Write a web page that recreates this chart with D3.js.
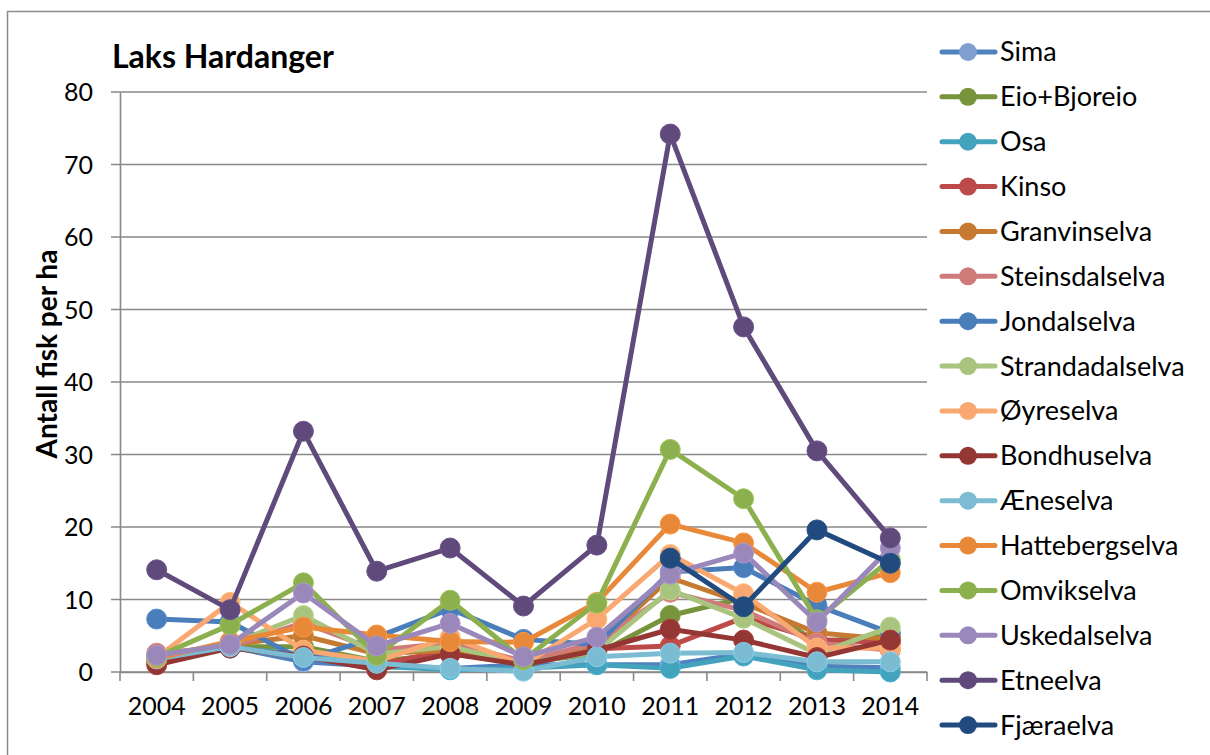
<!DOCTYPE html>
<head>
  <meta charset="utf-8">
  <script src="https://d3js.org/d3.v7.min.js"></script>
  <style>
    body { margin: 0; background: #fff; }
    text { font-family: Lato, "Liberation Sans", sans-serif; fill: #000; }
  </style>
</head>
<body>
  <script type="text/javascript">
    var w = 1210;
    var h = 755;

    // categories (years)
    var years = ["2004","2005","2006","2007","2008","2009","2010","2011","2012","2013","2014"];
    var yTicks = [0,10,20,30,40,50,60,70,80];

    // fish per ha, one array per river
    var sima          = [1.5, 3.5, 1.4, 0.8, 0.5, 1.0, 1.0, 1.0, 2.5, 0.8, 0.6];
    var eioBjoreio    = [1.8, 3.5, 3.5, 1.5, 2.5, 1.3, 2.5, 7.8,10.2, 4.2, 5.0];
    var osa           = [1.5, 3.3, 2.5, 0.8, 0.3, 0.5, 1.0, 0.5, 2.2, 0.3, 0.0];
    var kinso         = [1.5, 3.5, 2.0, 1.0, 3.0, 1.0, 3.2, 3.6, 7.5, 4.5, 4.0];
    var granvinselva  = [1.8, 3.8, 5.0, 2.5, 3.0, 1.2, 3.5,13.0, 9.5, 5.4, 4.5];
    var steinsdalselva= [2.6, 3.5, 6.8, 3.0, 4.0, 1.5, 4.0,11.0, 8.5, 4.0, 3.0];
    var jondalselva   = [7.3, 6.9, 1.6, 4.8, 8.7, 4.5, 3.8,13.8,14.4, 9.2, 5.4];
    var strandadalselva=[2.2, 3.8, 7.8, 2.5, 3.5, 1.2, 2.8,11.3, 7.4, 2.5, 6.2];
    var oyreselva     = [2.0, 9.6, 3.0, 1.5, 4.8, 1.0, 7.3,16.2,10.8, 3.3, 3.3];
    var bondhuselva   = [1.0, 3.3, 2.2, 0.3, 2.5, 1.0, 3.0, 5.9, 4.4, 2.0, 4.4];
    var aeneselva     = [1.8, 3.5, 2.0, 1.2, 0.5, 0.1, 2.1, 2.6, 2.7, 1.4, 1.4];
    var hattebergselva= [1.9, 4.2, 6.2, 5.1, 4.2, 4.1, 9.6,20.4,17.8,11.0,13.7];
    var omvikselva    = [2.1, 6.5,12.3, 2.3, 9.9, 1.7, 9.5,30.7,23.9, 7.2,15.5];
    var uskedalselva  = [2.3, 3.8,10.9, 3.6, 6.7, 2.1, 4.8,13.5,16.4, 6.9,17.1];
    var etneelva      = [14.1, 8.6,33.2,13.9,17.1, 9.1,17.5,74.2,47.6,30.5,18.5];
    var fjaraelva     = [null,null,null,null,null,null,null,15.7, 9.0,19.6,15.0];

    var names = ["Sima","Eio+Bjoreio","Osa","Kinso","Granvinselva","Steinsdalselva","Jondalselva",
                 "Strandadalselva","Øyreselva","Bondhuselva","Æneselva","Hattebergselva",
                 "Omvikselva","Uskedalselva","Etneelva","Fjæraelva"];
    var values = [sima, eioBjoreio, osa, kinso, granvinselva, steinsdalselva, jondalselva,
                  strandadalselva, oyreselva, bondhuselva, aeneselva, hattebergselva,
                  omvikselva, uskedalselva, etneelva, fjaraelva];
    var lineColors = ["#4f81bd","#77933c","#43a3bd","#bb4a48","#c67a31","#cf7b79","#4a7ebb",
                      "#a9c47f","#f8a870","#943634","#7bbcd3","#e8893a","#8db04f","#9b88ba",
                      "#604a7b","#214b7e"];
    var markerColors = ["#7f9fd0","#77933c","#43a3bd","#bb4a48","#c67a31","#cf7b79","#4a7ebb",
                        "#a9c47f","#f8a870","#943634","#7bbcd3","#e8893a","#8db04f","#9b88ba",
                        "#604a7b","#214b7e"];

    var series = names.map(function(n, i){
      return { name: n, line: lineColors[i], marker: markerColors[i],
               values: values[i].map(function(v, j){ return { year: years[j], v: v }; }) };
    });

    var svg = d3.select("body")
      .append("svg")
      .attr("width", w)
      .attr("height", h);

    // outer chart border
    svg.append("rect")
      .attr("x", 7.5).attr("y", 11.5)
      .attr("width", 1220).attr("height", 760)
      .attr("fill", "none")
      .attr("stroke", "#8c8c8c")
      .attr("stroke-width", 1.5);

    var xScale = d3.scaleBand()
                   .domain(years)
                   .range([120, 927])
                   .padding(0);

    var yScale = d3.scaleLinear()
                   .domain([0, 80])
                   .range([672, 92]);

    // gridlines
    svg.append("g")
      .selectAll("line")
      .data(yTicks)
      .enter()
      .append("line")
      .attr("x1", 111)
      .attr("x2", 927)
      .attr("y1", function(d){ return yScale(d); })
      .attr("y2", function(d){ return yScale(d); })
      .attr("stroke", "#898989")
      .attr("stroke-width", 1.6);

    // y axis
    var yAxis = d3.axisLeft(yScale).tickValues(yTicks).tickSize(0).tickPadding(27);
    var gy = svg.append("g").attr("transform", "translate(120,0)").call(yAxis);
    gy.select(".domain").attr("stroke", "#898989").attr("stroke-width", 1.6);
    gy.selectAll("text").style("font-size", "25px").attr("dy", "0.35em");

    // x axis
    var xAxis = d3.axisBottom(xScale).tickSize(0).tickPadding(25);
    var gx = svg.append("g").attr("transform", "translate(0,672)").call(xAxis);
    gx.select(".domain").attr("stroke", "#898989").attr("stroke-width", 1.6);
    gx.selectAll("text").style("font-size", "25px");
    gx.selectAll(".boundary")
      .data(years.concat(["end"]))
      .enter()
      .append("line")
      .attr("x1", function(d, i){ return i < years.length ? xScale(d) : xScale.range()[1]; })
      .attr("x2", function(d, i){ return i < years.length ? xScale(d) : xScale.range()[1]; })
      .attr("y1", 0).attr("y2", 9)
      .attr("stroke", "#898989")
      .attr("stroke-width", 1.6);

    // title and axis label
    svg.append("text")
      .attr("x", 112).attr("y", 68)
      .style("font-size", "32px")
      .style("font-weight", "bold")
      .text("Laks Hardanger");

    svg.append("text")
      .attr("transform", "translate(57,354) rotate(-90)")
      .attr("text-anchor", "middle")
      .style("font-size", "28px")
      .style("font-weight", "bold")
      .text("Antall fisk per ha");

    // series
    var line = d3.line()
      .defined(function(d){ return d.v !== null; })
      .x(function(d){ return xScale(d.year) + xScale.bandwidth() / 2; })
      .y(function(d){ return yScale(d.v); });

    var sg = svg.selectAll(".series")
      .data(series)
      .enter()
      .append("g")
      .attr("class", "series");

    sg.append("path")
      .attr("d", function(d){ return line(d.values); })
      .attr("fill", "none")
      .attr("stroke", function(d){ return d.line; })
      .attr("stroke-width", 5)
      .attr("stroke-linejoin", "round")
      .attr("stroke-linecap", "round");

    sg.selectAll("circle")
      .data(function(d){
        return d.values.filter(function(p){ return p.v !== null; })
                       .map(function(p){ return { year: p.year, v: p.v, c: d.marker }; });
      })
      .enter()
      .append("circle")
      .attr("cx", function(d){ return xScale(d.year) + xScale.bandwidth() / 2; })
      .attr("cy", function(d){ return yScale(d.v); })
      .attr("r", 10)
      .attr("fill", function(d){ return d.c; })
      .attr("stroke", function(d){ return d3.color(d.c).brighter(0.3); })
      .attr("stroke-width", 1);

    // legend
    var legend = svg.selectAll(".legend")
      .data(series)
      .enter()
      .append("g")
      .attr("class", "legend")
      .attr("transform", function(d, i){ return "translate(0," + (52 + i * 44.87) + ")"; });

    legend.append("line")
      .attr("x1", 942).attr("x2", 995)
      .attr("y1", 0).attr("y2", 0)
      .attr("stroke", function(d){ return d.line; })
      .attr("stroke-width", 5)
      .attr("stroke-linecap", "round");

    legend.append("circle")
      .attr("cx", 968).attr("cy", 0).attr("r", 9)
      .attr("fill", function(d){ return d.marker; });

    legend.append("text")
      .attr("x", 1000).attr("y", 0)
      .attr("dy", "0.35em")
      .style("font-size", "27px")
      .text(function(d){ return d.name; });
  </script>
</body>
